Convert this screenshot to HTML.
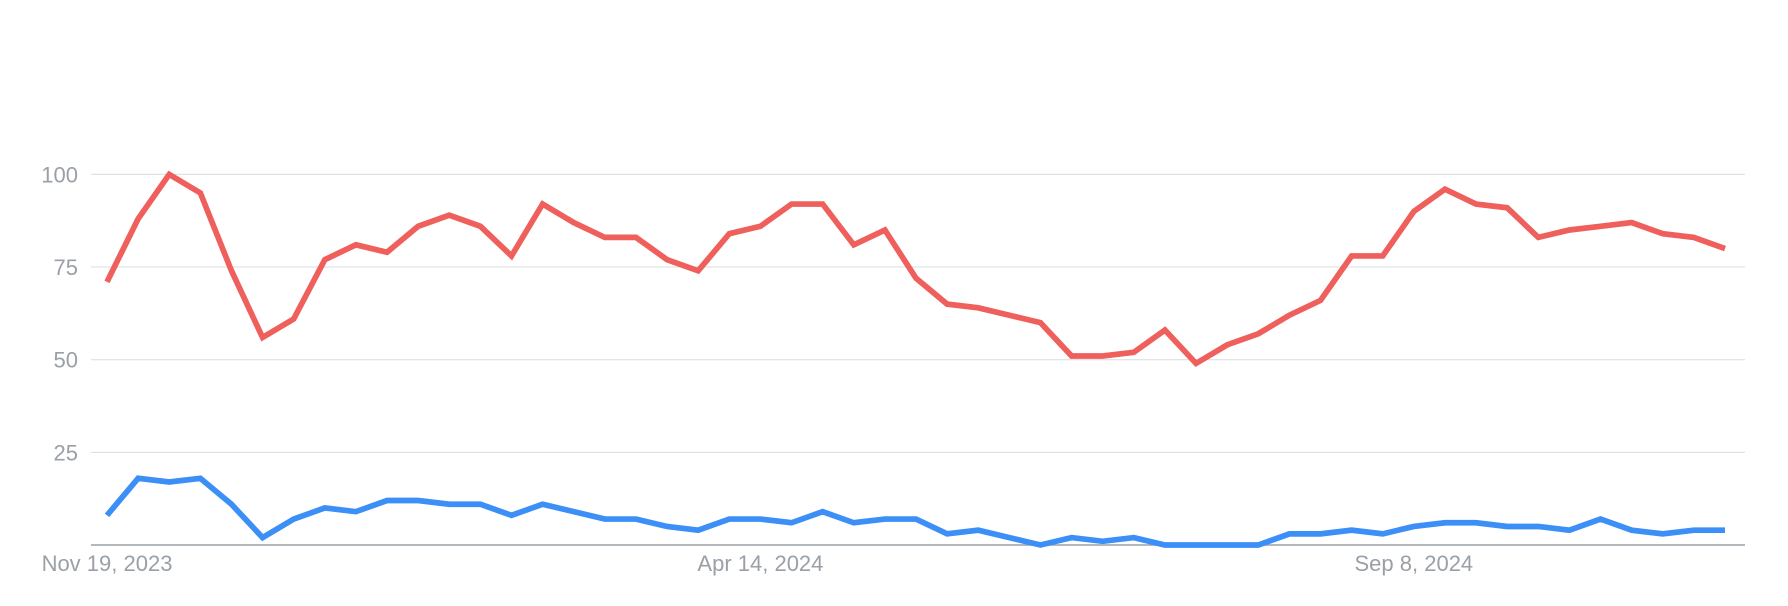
<!DOCTYPE html>
<html><head><meta charset="utf-8"><style>
html,body{margin:0;padding:0;background:#fff;width:1788px;height:606px;overflow:hidden}
text{font-family:"Liberation Sans",sans-serif;fill:#9aa0a6;font-size:22px}
</style></head><body>
<svg id="chart" width="1788" height="606" xmlns="http://www.w3.org/2000/svg"></svg>
<script>
const yTicks=[25,50,75,100];
const xLabels=["Nov 19, 2023","Apr 14, 2024","Sep 8, 2024"];
const xLabelIdx=[0,21,42];
const redValues=[71,88,100,95,74,56,61,77,81,79,86,89,86,78,92,87,83,83,77,74,84,86,92,92,81,85,72,65,64,62,60,51,51,52,58,49,54,57,62,66,78,78,90,96,92,91,83,85,86,87,84,83,80];
const blueValues=[8,18,17,18,11,2,7,10,9,12,12,11,11,8,11,9,7,7,5,4,7,7,6,9,6,7,7,3,4,2,0,2,1,2,0,0,0,0,3,3,4,3,5,6,6,5,5,4,7,4,3,4,4];
const svg=document.getElementById('chart');
const NS='http://www.w3.org/2000/svg';
const x=i=>107+i*(1725-107)/(redValues.length-1);
const y=v=>545-v*3.706;
function mk(t,a){const e=document.createElementNS(NS,t);for(const k in a)e.setAttribute(k,a[k]);svg.appendChild(e);return e;}
yTicks.forEach(v=>{
  const l=mk('line',{x1:91,x2:1745,y1:y(v),y2:y(v),stroke:'#dadce0','stroke-width':1});
  
  
  const t=mk('text',{x:78,y:y(v)+8,'text-anchor':'end'});t.textContent=v;
  
  
});
const base=mk('line',{x1:91,x2:1745,y1:545,y2:545,stroke:'#9aa0a6','stroke-width':1.5});


xLabels.forEach((s,k)=>{
  const t=mk('text',{x:x(xLabelIdx[k]),y:571,'text-anchor':'middle'});t.textContent=s;
  
  
});
function line(vals,color,name){
  const p=mk('polyline',{points:vals.map((v,i)=>x(i)+','+y(v)).join(' '),fill:'none',stroke:color,'stroke-width':5.7,'stroke-linejoin':'miter'});
  
  
}
line(blueValues,'#3b8ff6','blue-series-line');
line(redValues,'#ef5f5c','red-series-line');
</script>
</body></html>
